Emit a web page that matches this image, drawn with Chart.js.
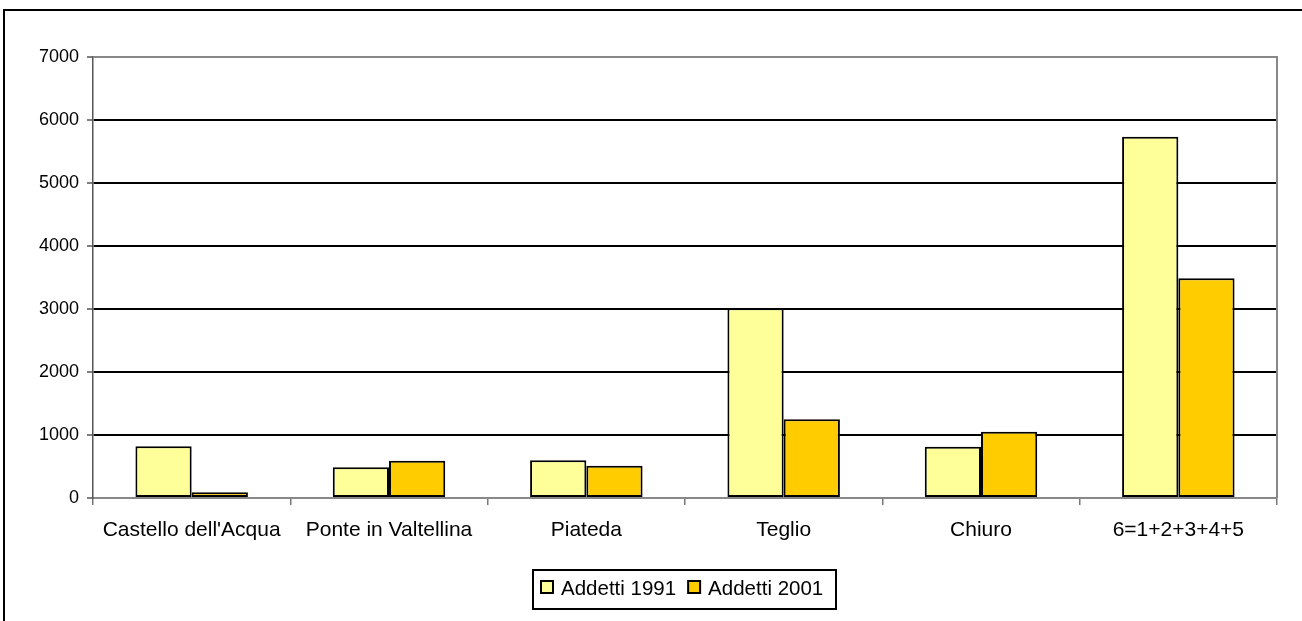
<!DOCTYPE html>
<html>
<head>
<meta charset="utf-8">
<title>Addetti 1991 - 2001</title>
<script src="https://cdn.jsdelivr.net/npm/chart.js@4/dist/chart.umd.min.js"></script>
<style>
  body { margin: 0; background: #fff; }
  #wrap { width: 1302px; height: 621px; }
</style>
</head>
<body>
<div id="wrap"><canvas id="addettiChart" width="1302" height="621"></canvas></div>
<script>
// data
const comuni = ['Castello dell\'Acqua', 'Ponte in Valtellina', 'Piateda', 'Teglio', 'Chiuro', '6=1+2+3+4+5'];
const addetti1991 = [820, 490, 600, 3010, 815, 5735];
const addetti2001 = [90, 590, 510, 1250, 1050, 3490];
const yTicks = [0, 1000, 2000, 3000, 4000, 5000, 6000, 7000];

const FONT = 'Liberation Sans, Arial, sans-serif';

// frame around the whole chart + top/right border of plot area
const framePlugin = {
    id: 'frame',
    afterDraw(chart) {
        const ctx = chart.ctx;
        const a = chart.chartArea;
        ctx.save();
        ctx.strokeStyle = '#000';
        ctx.lineWidth = 2;
        ctx.strokeRect(4, 10, 1310, 620);
        ctx.strokeStyle = '#888';
        ctx.lineWidth = 2;
        ctx.beginPath();
        ctx.moveTo(a.left, a.top);
        ctx.lineTo(a.right, a.top);
        ctx.lineTo(a.right, a.bottom);
        ctx.stroke();
        ctx.restore();
    }
};

// excel-style legend with a box round it
const legendBoxPlugin = {
    id: 'legendBox',
    afterDraw(chart) {
        const ctx = chart.ctx;
        ctx.save();
        ctx.strokeStyle = '#000';
        ctx.lineWidth = 2;
        ctx.strokeRect(533, 570, 303, 39);
        ctx.font = '20.5px ' + FONT;
        ctx.textBaseline = 'middle';
        let x = 541;
        chart.data.datasets.forEach(ds => {
            ctx.fillStyle = ds.backgroundColor;
            ctx.fillRect(x, 581, 12, 12);
            ctx.strokeStyle = '#000';
            ctx.lineWidth = 2;
            ctx.strokeRect(x, 581, 12, 12);
            ctx.fillStyle = '#000';
            ctx.fillText(ds.label, x + 20, 589);
            x += 20 + ctx.measureText(ds.label).width + 12;
        });
        ctx.restore();
    }
};

const ctx = document.getElementById('addettiChart').getContext('2d');
const addettiChart = new Chart(ctx, {
    type: 'bar',
    data: {
        labels: comuni,
        datasets: [{
            label: 'Addetti 1991',
            data: addetti1991,
            backgroundColor: '#FFFF99',
            borderColor: '#000',
            borderWidth: 2,
            borderSkipped: false
        }, {
            label: 'Addetti 2001',
            data: addetti2001,
            backgroundColor: '#FFCC00',
            borderColor: '#000',
            borderWidth: 2,
            borderSkipped: false
        }]
    },
    options: {
        responsive: false,
        animation: false,
        layout: { padding: { top: 57, right: 25, left: 0, bottom: 0 } },
        datasets: {
            bar: { categoryPercentage: 0.57, barPercentage: 1.0 }
        },
        plugins: {
            legend: { display: false },
            tooltip: { enabled: false }
        },
        scales: {
            x: {
                afterFit: scale => { scale.height = 123; },
                grid: {
                    offset: true,
                    drawOnChartArea: false,
                    drawTicks: true,
                    tickLength: 7,
                    color: '#777',
                    lineWidth: 1.5
                },
                border: { color: '#888', width: 2 },
                ticks: {
                    color: '#000',
                    font: { family: FONT, size: 21 },
                    padding: 13,
                    maxRotation: 0,
                    autoSkip: false
                }
            },
            y: {
                min: 0,
                max: 7000,
                afterFit: scale => { scale.width = 93; },
                afterBuildTicks: scale => { scale.ticks = yTicks.map(v => ({ value: v })); },
                grid: {
                    color: c => (c.tick.value === 7000 || c.tick.value === 0) ? '#888' : '#000',
                    lineWidth: 2,
                    tickColor: '#555',
                    tickLength: 6,
                    tickWidth: 1.5
                },
                border: { color: '#555', width: 1.5 },
                ticks: {
                    color: '#000',
                    font: { family: FONT, size: 18 },
                    padding: 8,
                    callback: v => String(v)
                }
            }
        }
    },
    plugins: [framePlugin, legendBoxPlugin]
});
</script>
</body>
</html>
